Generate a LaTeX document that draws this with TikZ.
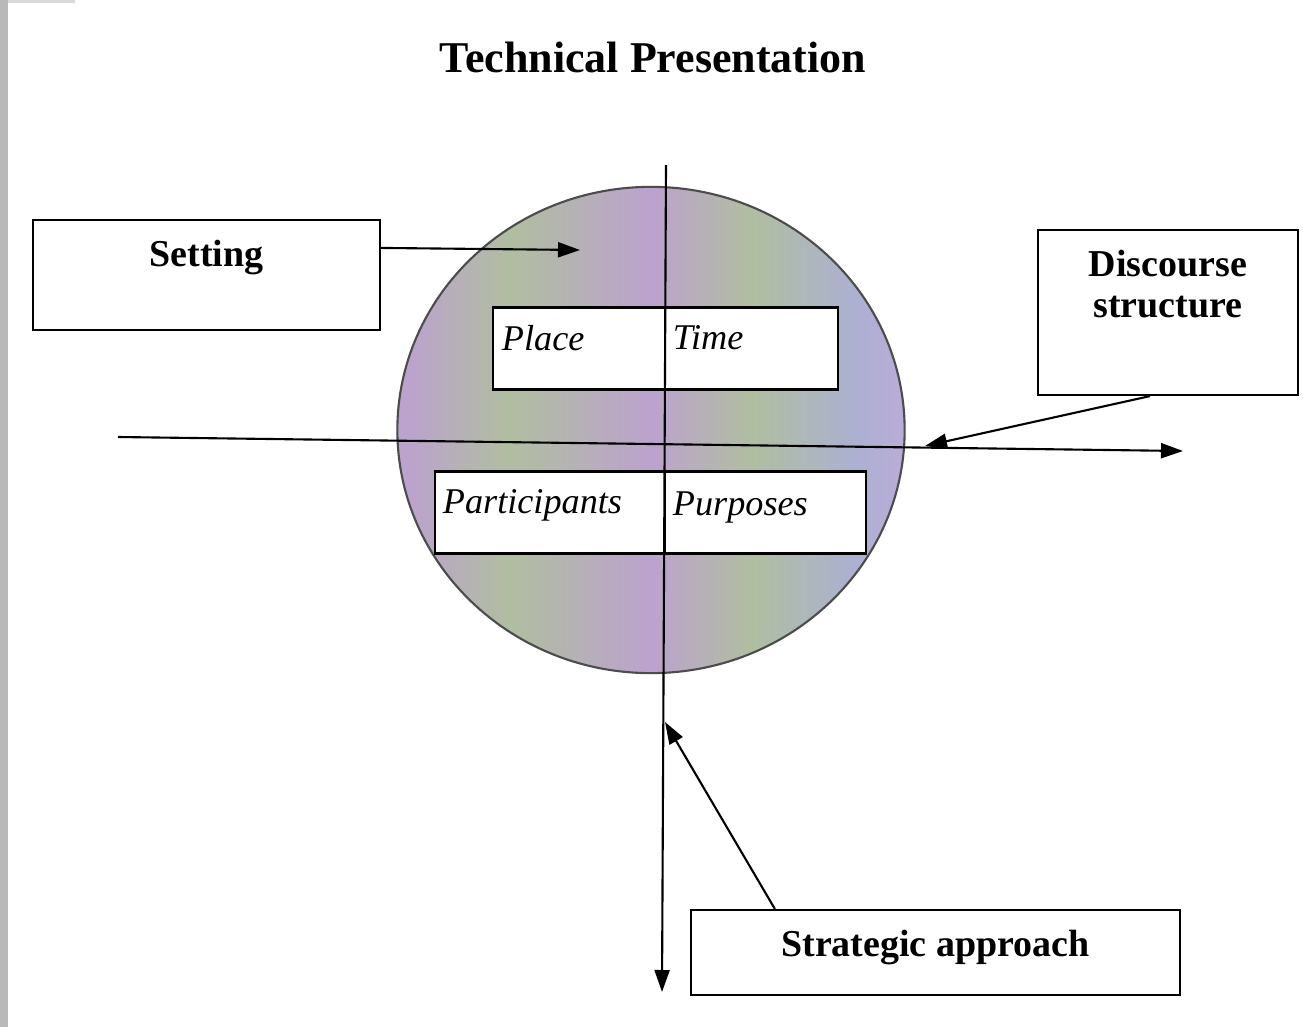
\documentclass[tikz,border=0pt]{standalone}
\usepackage{fontspec}
\setmainfont{Liberation Serif}
\usetikzlibrary{shapes.geometric,arrows.meta,positioning}
\definecolor{lav}{RGB}{194,170,218}
\definecolor{sage}{RGB}{176,190,160}
\definecolor{mist}{RGB}{172,176,210}
\definecolor{mauve}{RGB}{188,162,206}
\pgfdeclarehorizontalshading{mottle}{100bp}{color(0bp)=(sage); color(8bp)=(lav); color(16bp)=(sage); color(26bp)=(mauve); color(36bp)=(sage); color(50bp)=(mauve); color(60bp)=(sage); color(70bp)=(mist); color(78bp)=(lav); color(88bp)=(sage); color(100bp)=(mauve)}
\tikzset{box/.style={rectangle,draw,fill=white,inner sep=0pt}}
\tikzset{slot/.style={box,minimum height=0.82cm}}
\tikzset{heading/.style={inner sep=0pt,font=\fontsize{10.8}{11.6}\selectfont\bfseries,align=center}}
\tikzset{entry/.style={inner sep=0pt,font=\fontsize{10.3}{12}\selectfont\itshape}}
\tikzset{disc/.style={ellipse,draw=gray!60!black,shading=mottle,minimum width=5.07cm,minimum height=4.86cm,inner sep=0pt}}
\tikzset{axis/.style={draw,->}}
\tikzset{pointer/.style={draw,->}}
\begin{document}
\begin{tikzpicture}[x=0.01cm,y=-0.01cm,line width=0.6pt,>={Triangle[length=2.2mm,width=1.5mm]}]
    \fill[white] (0,0) rectangle (1303,1027);
    \useasboundingbox (0,0) rectangle (1303,1027);
    \fill[gray!55] (0,0) rectangle (8,1027);
    \fill[gray!30] (8,0) rectangle (75,3);

    \node[font=\fontsize{12.5}{14}\selectfont\bfseries,inner sep=0pt] (ttl) at (653,57) {Technical Presentation};

    \node[disc] (circ) at (651,430) {};

    \node[box,minimum width=3.47cm,minimum height=1.1cm] (setting) at (206.5,275) {};
    \node[heading,below=0.2cm of setting.north] (settxt) {Setting};
    \node[box,minimum width=2.6cm,minimum height=1.65cm] (dstr) at (1168,312.5) {};
    \node[heading,below=0.2cm of dstr.north] (dstrtxt) {Discourse\\structure};
    \node[box,minimum width=4.89cm,minimum height=0.85cm] (strat) at (935.5,952.5) {};
    \node[heading,below=0.2cm of strat.north] (strattxt) {Strategic approach};

    \node[slot,minimum width=1.72cm] (place) at (579,348.5) {};
    \node[slot,minimum width=1.73cm] (time) at (751.5,348.5) {};
    \node[slot,minimum width=2.3cm] (part) at (550,512.5) {};
    \node[slot,minimum width=2.01cm] (purp) at (765.5,512.5) {};
    \node[entry,below right=0.18cm and 0.09cm of place.north west] {Place};
    \node[entry,below right=0.18cm and 0.08cm of time.north west] {Time};
    \node[entry,below right=0.18cm and 0.08cm of part.north west] {Participants};
    \node[entry,below right=0.2cm and 0.08cm of purp.north west] {Purposes};

    \coordinate (vtop) at (666,165);
    \coordinate (vbot) at (662,992);
    \coordinate (hleft) at (118,437);
    \coordinate (hright) at (1183,451);
    \coordinate (settip) at (580,250);
    \coordinate (dtip) at (925,446);
    \coordinate (stip) at (665,722);

    \path[axis] (vtop) -- (vbot);
    \path[axis] (hleft) -- (hright);
    \path[pointer] ([yshift=-2.9mm]setting.north east) -- (settip);
    \path[pointer] ([xshift=-1.8mm]dstr.south) -- (dtip);
    \path[pointer] ([xshift=8.5mm]strat.north west) -- (stip);
\end{tikzpicture}
\end{document}
